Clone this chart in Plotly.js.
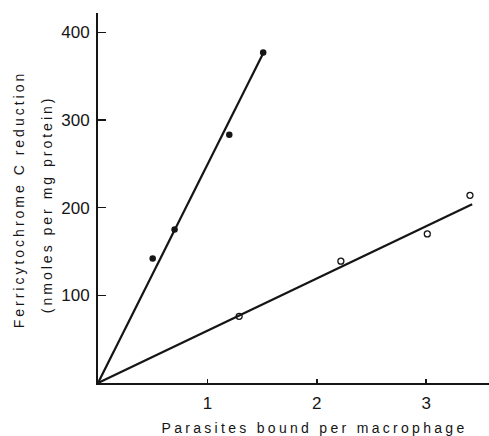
<!DOCTYPE html>
<html><head><meta charset="utf-8">
<script src="https://cdn.plot.ly/plotly-3.0.1.min.js"></script>
<style>
html,body{margin:0;padding:0;background:#fff}
#chart{width:489px;height:436px}
#chart .annotation-text{letter-spacing:3px}
#chart .annotation[data-index="0"] .annotation-text{letter-spacing:3.3px}
</style>
</head><body><div id="chart"></div>
<script>
// Filled circles series
const filledX = [0.50, 0.70, 1.20, 1.51];
const filledY = [142, 175, 283, 377];
// Open circles series
const openX = [1.29, 2.22, 3.01, 3.40];
const openY = [76, 139, 170, 214];
// Fitted lines (origin to end)
const filledLineX = [0, 1.51];
const filledLineY = [0, 376];
const openLineX = [0, 3.42];
const openLineY = [0, 204];
// Tick labels
const xTicks = [1, 2, 3];
const yTicks = [100, 200, 300, 400];
// Titles
const xTitle = 'Parasites bound per macrophage';
const yTitle1 = 'Ferricytochrome C reduction';
const yTitle2 = '(nmoles per mg protein)';

const FAM = 'Liberation Sans, Arial, sans-serif';
const INK = '#151515';

const traces = [
  {x: filledLineX, y: filledLineY, mode: 'lines', line: {color: INK, width: 2.2}, hoverinfo: 'skip'},
  {x: openLineX, y: openLineY, mode: 'lines', line: {color: INK, width: 2.2}, hoverinfo: 'skip'},
  {x: filledX, y: filledY, mode: 'markers', marker: {symbol: 'circle', size: 6.5, color: INK}},
  {x: openX, y: openY, mode: 'markers', marker: {symbol: 'circle-open', size: 6, color: INK, line: {width: 1.3}}}
];

const titleFont = {family: FAM, size: 14, color: INK};

const layout = {
  width: 489, height: 436,
  margin: {l: 98, r: 0, t: 13, b: 53},
  showlegend: false,
  paper_bgcolor: '#fff', plot_bgcolor: '#fff',
  font: {family: FAM, color: INK},
  xaxis: {
    range: [0, 3.574], tickvals: xTicks, ticktext: xTicks.map(String),
    showgrid: false, zeroline: false, showline: true, linecolor: INK, linewidth: 2,
    ticks: 'inside', ticklen: 4, tickwidth: 1.5, tickcolor: INK,
    ticklabelstandoff: 4,
    tickfont: {family: FAM, size: 17, color: INK}
  },
  yaxis: {
    range: [0, 422], tickvals: yTicks, ticktext: yTicks.map(String),
    showgrid: false, zeroline: false, showline: true, linecolor: INK, linewidth: 2,
    ticks: 'inside', ticklen: 8, tickwidth: 1.5, tickcolor: INK,
    ticklabelstandoff: 3,
    tickfont: {family: FAM, size: 17, color: INK}
  },
  annotations: [
    {text: xTitle, xref: 'paper', yref: 'paper', x: 0.554, y: 0, yshift: -45,
     xanchor: 'center', yanchor: 'middle', showarrow: false, font: titleFont},
    {text: yTitle1, xref: 'paper', yref: 'paper', x: 0, y: 0.495, xshift: -79,
     xanchor: 'center', yanchor: 'middle', textangle: -90, showarrow: false, font: titleFont},
    {text: yTitle2, xref: 'paper', yref: 'paper', x: 0, y: 0.482, xshift: -51,
     xanchor: 'center', yanchor: 'middle', textangle: -90, showarrow: false, font: titleFont}
  ]
};

Plotly.newPlot('chart', traces, layout, {displayModeBar: false, staticPlot: true});
</script>
</body></html>
